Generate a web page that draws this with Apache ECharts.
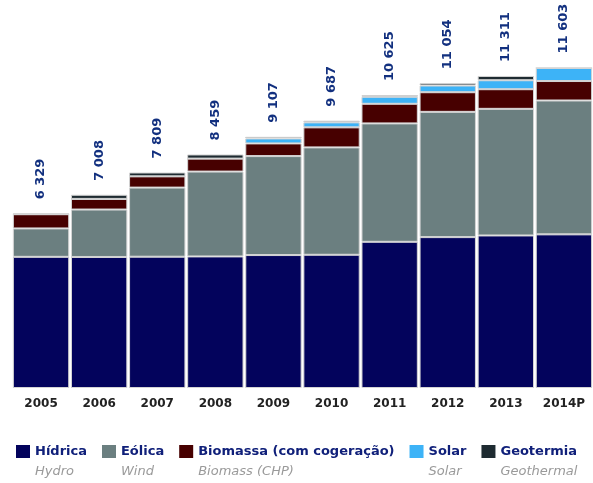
<!DOCTYPE html>
<html>
<head>
<meta charset="utf-8">
<script src="https://cdn.jsdelivr.net/npm/echarts@6/dist/echarts.min.js"></script>
<style>
  html, body { margin: 0; padding: 0; background: #fff; }
  #chart { width: 593px; height: 483px; }
</style>
</head>
<body>
<div id="chart"></div>
<script>
// categories and values (MW)
const years = ["2005", "2006", "2007", "2008", "2009", "2010", "2011", "2012", "2013", "2014P"];
const hydro = [4755, 4750, 4760, 4770, 4820, 4830, 5300, 5470, 5530, 5570];
const wind = [1030, 1720, 2505, 3076, 3587, 3893, 4293, 4541, 4590, 4853];
const biomass = [515, 385, 408, 470, 460, 726, 711, 712, 712, 706];
const solar = [0, 0, 0, 0, 181, 181, 254, 243, 325, 473];
const geo = [29, 150, 140, 150, 58, 62, 62, 84, 155, 0];
const totals = ["6 329", "7 008", "7 809", "8 459", "9 107", "9 687", "10 625", "11 054", "11 311", "11 603"];

const names = ["Hídrica", "Eólica", "Biomassa (com cogeração)", "Solar", "Geotermia"];
const english = ["Hydro", "Wind", "Biomass (CHP)", "Solar", "Geothermal"];
const colors = ["#03035c", "#6b7f80", "#470000", "#3db3f7", "#1e2b31"];
const values = [hydro, wind, biomass, solar, geo];

const font = "DejaVu Sans";

let mychart = echarts.init(document.getElementById("chart"));

let series = values.map((d, i) => ({
  name: names[i],
  type: "bar",
  stack: "total",
  data: d,
  barCategoryGap: "3%",
  itemStyle: {
    color: colors[i],
    borderColor: "#d4d4d4",
    borderWidth: 1
  }
}));

// total on top of the stack
series[4].label = {
  show: true,
  position: "top",
  distance: 14,
  rotate: 90,
  align: "left",
  verticalAlign: "middle",
  fontFamily: font,
  fontSize: 13,
  fontWeight: "bold",
  color: "#12307f",
  formatter: (p) => totals[p.dataIndex]
};

mychart.setOption({
  animation: false,
  color: colors,
  grid: {
    left: 12,
    top: 57,
    width: 583,
    height: 331
  },
  xAxis: {
    type: "category",
    data: years,
    axisLine: { show: false },
    axisTick: { show: false },
    axisLabel: {
      interval: 0,
      margin: 10,
      fontFamily: font,
      fontSize: 12,
      fontWeight: "bold",
      color: "#222"
    }
  },
  yAxis: {
    type: "value",
    min: 0,
    max: 12000,
    show: false
  },
  legend: {
    left: 16,
    top: 425,
    padding: 0,
    itemWidth: 14,
    itemHeight: 13,
    itemGap: 15,
    icon: "rect",
    selectedMode: false,
    itemStyle: { borderWidth: 0 },
    formatter: (name) => "{b| }\n{a|" + name + "}\n{b|" + english[names.indexOf(name)] + "}",
    textStyle: {
      rich: {
        a: { fontFamily: font, fontSize: 13, fontWeight: "bold", color: "#10207a", lineHeight: 20 },
        b: { fontFamily: font, fontSize: 13, fontStyle: "italic", color: "#9a9a9a", lineHeight: 20 }
      }
    }
  },
  series: series
});
</script>
</body>
</html>
